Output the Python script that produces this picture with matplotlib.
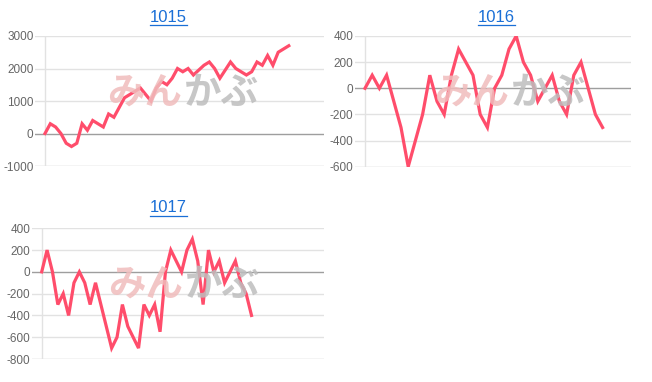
import matplotlib
matplotlib.use("Agg")
import matplotlib.pyplot as plt
import numpy as np
from matplotlib.lines import Line2D

plt.rcParams['axes.unicode_minus'] = False
plt.rcParams['font.family'] = ['Liberation Sans', 'DejaVu Sans']

# ---- data ----
titles = ["1015", "1016", "1017"]
s1015 = [0, 300, 200, 0, -300, -400, -300, 300, 100, 400, 300, 200, 600, 500, 800,
         1100, 1200, 1300, 1400, 1200, 1000, 1400, 1600, 1500, 1700, 2000, 1900, 2000,
         1800, 1950, 2100, 2200, 2000, 1700, 1950, 2200, 2000, 1900, 1800, 1900, 2200,
         2100, 2400, 2100, 2500, 2600, 2700]
s1016 = [0, 100, 0, 100, -100, -300, -600, -400, -200, 100, -100, -200, 100, 300, 200,
         100, -200, -300, 0, 100, 300, 400, 200, 100, -100, 0, 100, -100, -200, 100,
         200, 0, -200, -300]
s1017 = [0, 200, 0, -300, -200, -400, -100, 0, -100, -300, -100, -300, -500, -700,
         -600, -300, -500, -600, -700, -300, -400, -300, -550, 0, 200, 100, 0, 200,
         300, 100, -300, 200, 0, 100, -100, 0, 100, -100, -200, -400]
ticks1015 = [-1000, 0, 1000, 2000, 3000]
ticks1016 = [-600, -400, -200, 0, 200, 400]
ticks1017 = [-800, -600, -400, -200, 0, 200, 400]

W, H = 652, 382
fig = plt.figure(figsize=(W / 100, H / 100), dpi=100)

LINE = '#ff4d6b'
GRID = '#e2e2e2'
ZERO = '#9e9e9e'
BLUE = '#1a6fd6'

# panel specs: (series, ticks, left px, right px, top px, bottom px, x0 px, step px, title x, title y, wm center)
panels = [
    (s1015, ticks1015, 35, 324, 36, 166, 45, 5.3, 168, 17, (183, 93)),
    (s1016, ticks1016, 355, 631, 36, 166.7, 365, 7.2, 496, 17, (510, 93)),
    (s1017, ticks1017, 31.7, 324, 228.3, 359, 41.7, 5.38, 168, 208, (184, 285)),
]

for (series, ticks, lpx, rpx, tpx, bpx, x0, step, tx, ty, wm), title in zip(panels, titles):
    ax = fig.add_axes([lpx / W, 1 - bpx / H, (rpx - lpx) / W, (bpx - tpx) / H])
    xs = np.arange(len(series))
    ax.set_xlim((lpx - x0) / step, (rpx - x0) / step)
    ax.set_ylim(ticks[0], ticks[-1])
    for t in ticks:
        if t == 0:
            ax.axhline(t, color=ZERO, lw=1.0, zorder=1)
        elif t == ticks[0]:
            ax.axhline(t, color='#c8c8c8', lw=1.0, zorder=1)
        else:
            ax.axhline(t, color=GRID, lw=1.0, zorder=1)
    ax.axvline(0, color=GRID, lw=1.0, zorder=1)
    ax.plot(xs, series, color=LINE, lw=2.3, zorder=3, solid_joinstyle='miter')
    ax.set_yticks(ticks)
    ax.set_yticklabels([str(t) for t in ticks])
    ax.tick_params(axis='y', length=0, pad=1, labelsize=8.5, labelcolor='#666666')
    ax.set_xticks([])
    for s in ax.spines.values():
        s.set_visible(False)
    ax.patch.set_alpha(0)
    # watermark
    cx, cy = wm
    fig.text((cx - 1) / W, 1 - cy / H, "みん", ha='right', va='center', fontsize=27,
             fontweight='bold', color='#f0bcbc', alpha=0.85,
             family=['Noto Sans CJK JP', 'DejaVu Sans'], zorder=0.5)
    fig.text((cx + 1) / W, 1 - cy / H, "かぶ", ha='left', va='center', fontsize=27,
             fontweight='bold', color='#bdbdbd', alpha=0.85,
             family=['Noto Sans CJK JP', 'DejaVu Sans'], zorder=0.5)
    # title
    fig.text(tx / W, 1 - ty / H, title, ha='center', va='center', fontsize=12,
             color=BLUE)

fig.canvas.draw()
renderer = fig.canvas.get_renderer()
for txt in fig.texts:
    if txt.get_text() in titles:
        bb = txt.get_window_extent(renderer)
        yline = bb.y0 - 0.5
        fig.add_artist(Line2D([bb.x0 / W, bb.x1 / W], [yline / H, yline / H],
                              transform=fig.transFigure, color=BLUE, lw=0.9))

fig.savefig("out.png", dpi=100)
